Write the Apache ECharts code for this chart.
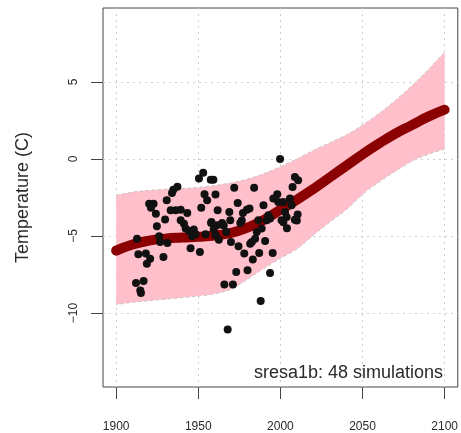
<!DOCTYPE html>
<html>
<head>
<meta charset="utf-8">
<script src="https://cdn.jsdelivr.net/npm/echarts@6/dist/echarts.min.js"></script>
<style>
  html, body { margin: 0; padding: 0; background: #fff; }
  #chart { width: 461px; height: 433px; }
</style>
</head>
<body>
<div id="chart"></div>
<script>
// Fitted trend and its uncertainty band, sampled every decade
const fitYears   = [1900, 1910, 1920, 1930, 1940, 1950, 1960, 1970, 1980, 1990, 2000, 2010, 2020, 2030, 2040, 2050, 2060, 2070, 2080, 2090, 2100];
const fitCenter  = [-5.95, -5.55, -5.3, -5.17, -5.1, -5.05, -4.97, -4.8, -4.45, -3.95, -3.3, -2.65, -1.95, -1.2, -0.45, 0.3, 1.0, 1.65, 2.2, 2.75, 3.2];
const bandUpper  = [-2.36, -2.15, -2.03, -1.97, -1.92, -1.85, -1.72, -1.55, -1.3, -0.95, -0.5, 0.0, 0.55, 1.05, 1.55, 2.2, 2.95, 3.8, 4.75, 5.8, 6.95];
const bandLower  = [-9.45, -9.3, -9.2, -9.1, -9.0, -8.9, -8.75, -8.45, -7.8, -7.1, -6.45, -5.85, -4.95, -4.1, -3.3, -2.3, -1.5, -0.8, -0.15, 0.3, 0.65];

// Individual simulation values
const simYears = [1999.8, 1953.0, 1950.4, 1957.6, 1959.2, 2008.8, 2010.8, 1971.9, 1984.0, 2007.4,
  1937.3, 1934.8, 1934.0, 1930.8, 1920.1, 1922.8, 1921.2, 1924.2, 1953.8, 1955.4,
  1960.5, 1951.8, 1933.2, 1936.3, 1939.3, 1943.3, 1961.8, 1957.8, 1929.8, 1924.8,
  1939.3, 1941.3, 1942.3, 1944.3, 1947.3, 1948.4, 1946.3, 1954.4, 1959.4, 1960.5,
  1912.7, 1926.2, 1926.8, 1931.2, 1945.3, 1951.0, 1974.0, 1998.1, 1995.7, 1998.7,
  2001.8, 2005.8, 2006.8, 1968.9, 1977.2, 1979.6, 1981.2, 1989.7, 1992.7, 1991.7,
  2002.8, 2003.8, 2008.8, 2010.5, 2010.0, 1975.6, 1964.5, 1961.5, 1967.1, 1985.6,
  1988.6, 1984.6, 1982.6, 1962.5, 1969.9, 1974.5, 1990.7, 1978.0, 1981.6, 1987.1,
  1995.3, 1983.2, 1973.1, 1980.0, 1993.7, 1965.9, 1971.1, 1988.0, 1967.9, 1913.5,
  1918.1, 1920.7, 1918.7, 1928.8, 1912.1, 1916.7, 1914.7, 1915.1, 2001.8, 2004.0,
  1965.5, 1969.5, 1986.6, 1993.7, 2000.7, 1958.0, 1976.5];
const simTemps = [0.0, -0.9, -1.27, -1.34, -1.34, -1.17, -1.38, -1.86, -1.86, -1.82,
  -1.8, -2.0, -2.2, -2.68, -2.9, -2.9, -3.16, -3.55, -2.29, -2.68,
  -2.31, -3.16, -3.33, -3.33, -3.29, -3.5, -3.33, -4.15, -3.92, -4.37,
  -3.98, -4.2, -4.52, -4.67, -4.58, -4.89, -5.02, -4.89, -4.58, -4.95,
  -5.17, -5.02, -5.39, -5.45, -5.8, -6.04, -2.85, -2.29, -2.57, -2.79,
  -2.79, -2.57, -3.0, -3.44, -3.5, -3.29, -3.22, -3.0, -3.66, -3.98,
  -3.44, -3.77, -3.94, -3.6, -4.0, -4.15, -4.15, -4.3, -4.74, -4.74,
  -4.52, -5.17, -5.39, -5.24, -5.39, -5.67, -5.32, -6.14, -5.5, -6.1,
  -6.1, -6.53, -7.34, -7.23, -7.4, -8.14, -8.14, -9.22, -11.06, -6.19,
  -6.14, -6.47, -6.8, -6.36, -8.05, -7.92, -8.53, -8.7, -4.1, -4.5,
  -4.31, -3.98, -3.98, -3.87, -3.98, -4.09, -4.0];

// Axis ticks
const xTicks = [1900, 1950, 2000, 2050, 2100];
const yTicks = [-10, -5, 0, 5];

const zip = (a, b) => a.map((v, i) => [v, b[i]]);

const FONT = 'Liberation Sans, Arial, sans-serif';
const INK = '#2a2a2a';
const gridLine = { show: true, lineStyle: { color: '#cfcfcf', type: [2, 4], width: 1 } };

// Smooth path through screen points (Catmull-Rom converted to cubic Bezier)
function curveCommands(pts, startWithMove) {
  let d = (startWithMove ? 'M' : 'L') + pts[0][0] + ',' + pts[0][1];
  for (let i = 0; i < pts.length - 1; i++) {
    const p0 = pts[Math.max(i - 1, 0)], p1 = pts[i], p2 = pts[i + 1], p3 = pts[Math.min(i + 2, pts.length - 1)];
    const c1 = [p1[0] + (p2[0] - p0[0]) / 6, p1[1] + (p2[1] - p0[1]) / 6];
    const c2 = [p2[0] - (p3[0] - p1[0]) / 6, p2[1] - (p3[1] - p1[1]) / 6];
    d += 'C' + c1[0] + ',' + c1[1] + ' ' + c2[0] + ',' + c2[1] + ' ' + p2[0] + ',' + p2[1];
  }
  return d;
}

function renderBand(params, api) {
  const up = fitYears.map((y, i) => api.coord([y, bandUpper[i]]));
  const lo = fitYears.map((y, i) => api.coord([y, bandLower[i]])).reverse();
  const fill = curveCommands(up, true) + curveCommands(lo, false) + 'Z';
  const edge = { stroke: '#c4c4c4', lineWidth: 1, lineDash: [3, 3], fill: null };
  return {
    type: 'group',
    children: [
      { type: 'path', shape: { pathData: fill }, style: { fill: '#FFC0CB', stroke: null } },
      { type: 'path', shape: { pathData: curveCommands(up, true) }, style: edge },
      { type: 'path', shape: { pathData: curveCommands(lo, true) }, style: edge }
    ]
  };
}

const chart = echarts.init(document.getElementById('chart'), null, { renderer: 'canvas' });
chart.setOption({
  animation: false,
  backgroundColor: '#fff',
  grid: { left: 103, right: 3, top: 8, bottom: 46, show: true, borderColor: '#444', borderWidth: 1, backgroundColor: 'transparent' },
  xAxis: {
    type: 'value', min: 1892, max: 2108,
    axisLine: { show: false, onZero: false },
    axisTick: { show: true, length: 12, customValues: xTicks, lineStyle: { color: '#444' } },
    axisLabel: { customValues: xTicks, margin: 34, fontFamily: FONT, fontSize: 12, color: INK, formatter: v => String(v) },
    splitLine: gridLine
  },
  yAxis: {
    type: 'value', min: -14.8, max: 9.8,
    name: 'Temperature (C)', nameLocation: 'middle', nameGap: 71,
    nameTextStyle: { fontFamily: FONT, fontSize: 18, color: INK },
    axisLine: { show: false, onZero: false },
    axisTick: { show: true, length: 12, customValues: yTicks, lineStyle: { color: '#444' } },
    axisLabel: {
      customValues: yTicks, rotate: 90, margin: 23, fontFamily: FONT, fontSize: 12, color: INK,
      formatter: v => (v < 0 ? '\u2212' + Math.abs(v) : String(v))
    },
    splitLine: gridLine
  },
  graphic: [{
    type: 'text', right: 18, top: 364, z: 10,
    style: { text: 'sresa1b: 48 simulations', font: '18px ' + FONT, fill: INK }
  }],
  series: [
    {
      name: 'band', type: 'custom', renderItem: renderBand, data: [0],
      silent: true, clip: true, z: 1
    },
    {
      name: 'fit', type: 'line', data: zip(fitYears, fitCenter),
      smooth: true, symbol: 'none', silent: true,
      lineStyle: { color: '#8B0000', width: 10, cap: 'round', join: 'round' }, z: 3
    },
    {
      name: 'simulations', type: 'scatter', data: zip(simYears, simTemps),
      symbol: 'circle', symbolSize: 8, silent: true,
      itemStyle: { color: '#111', opacity: 1 }, z: 4
    }
  ]
});
</script>
</body>
</html>
